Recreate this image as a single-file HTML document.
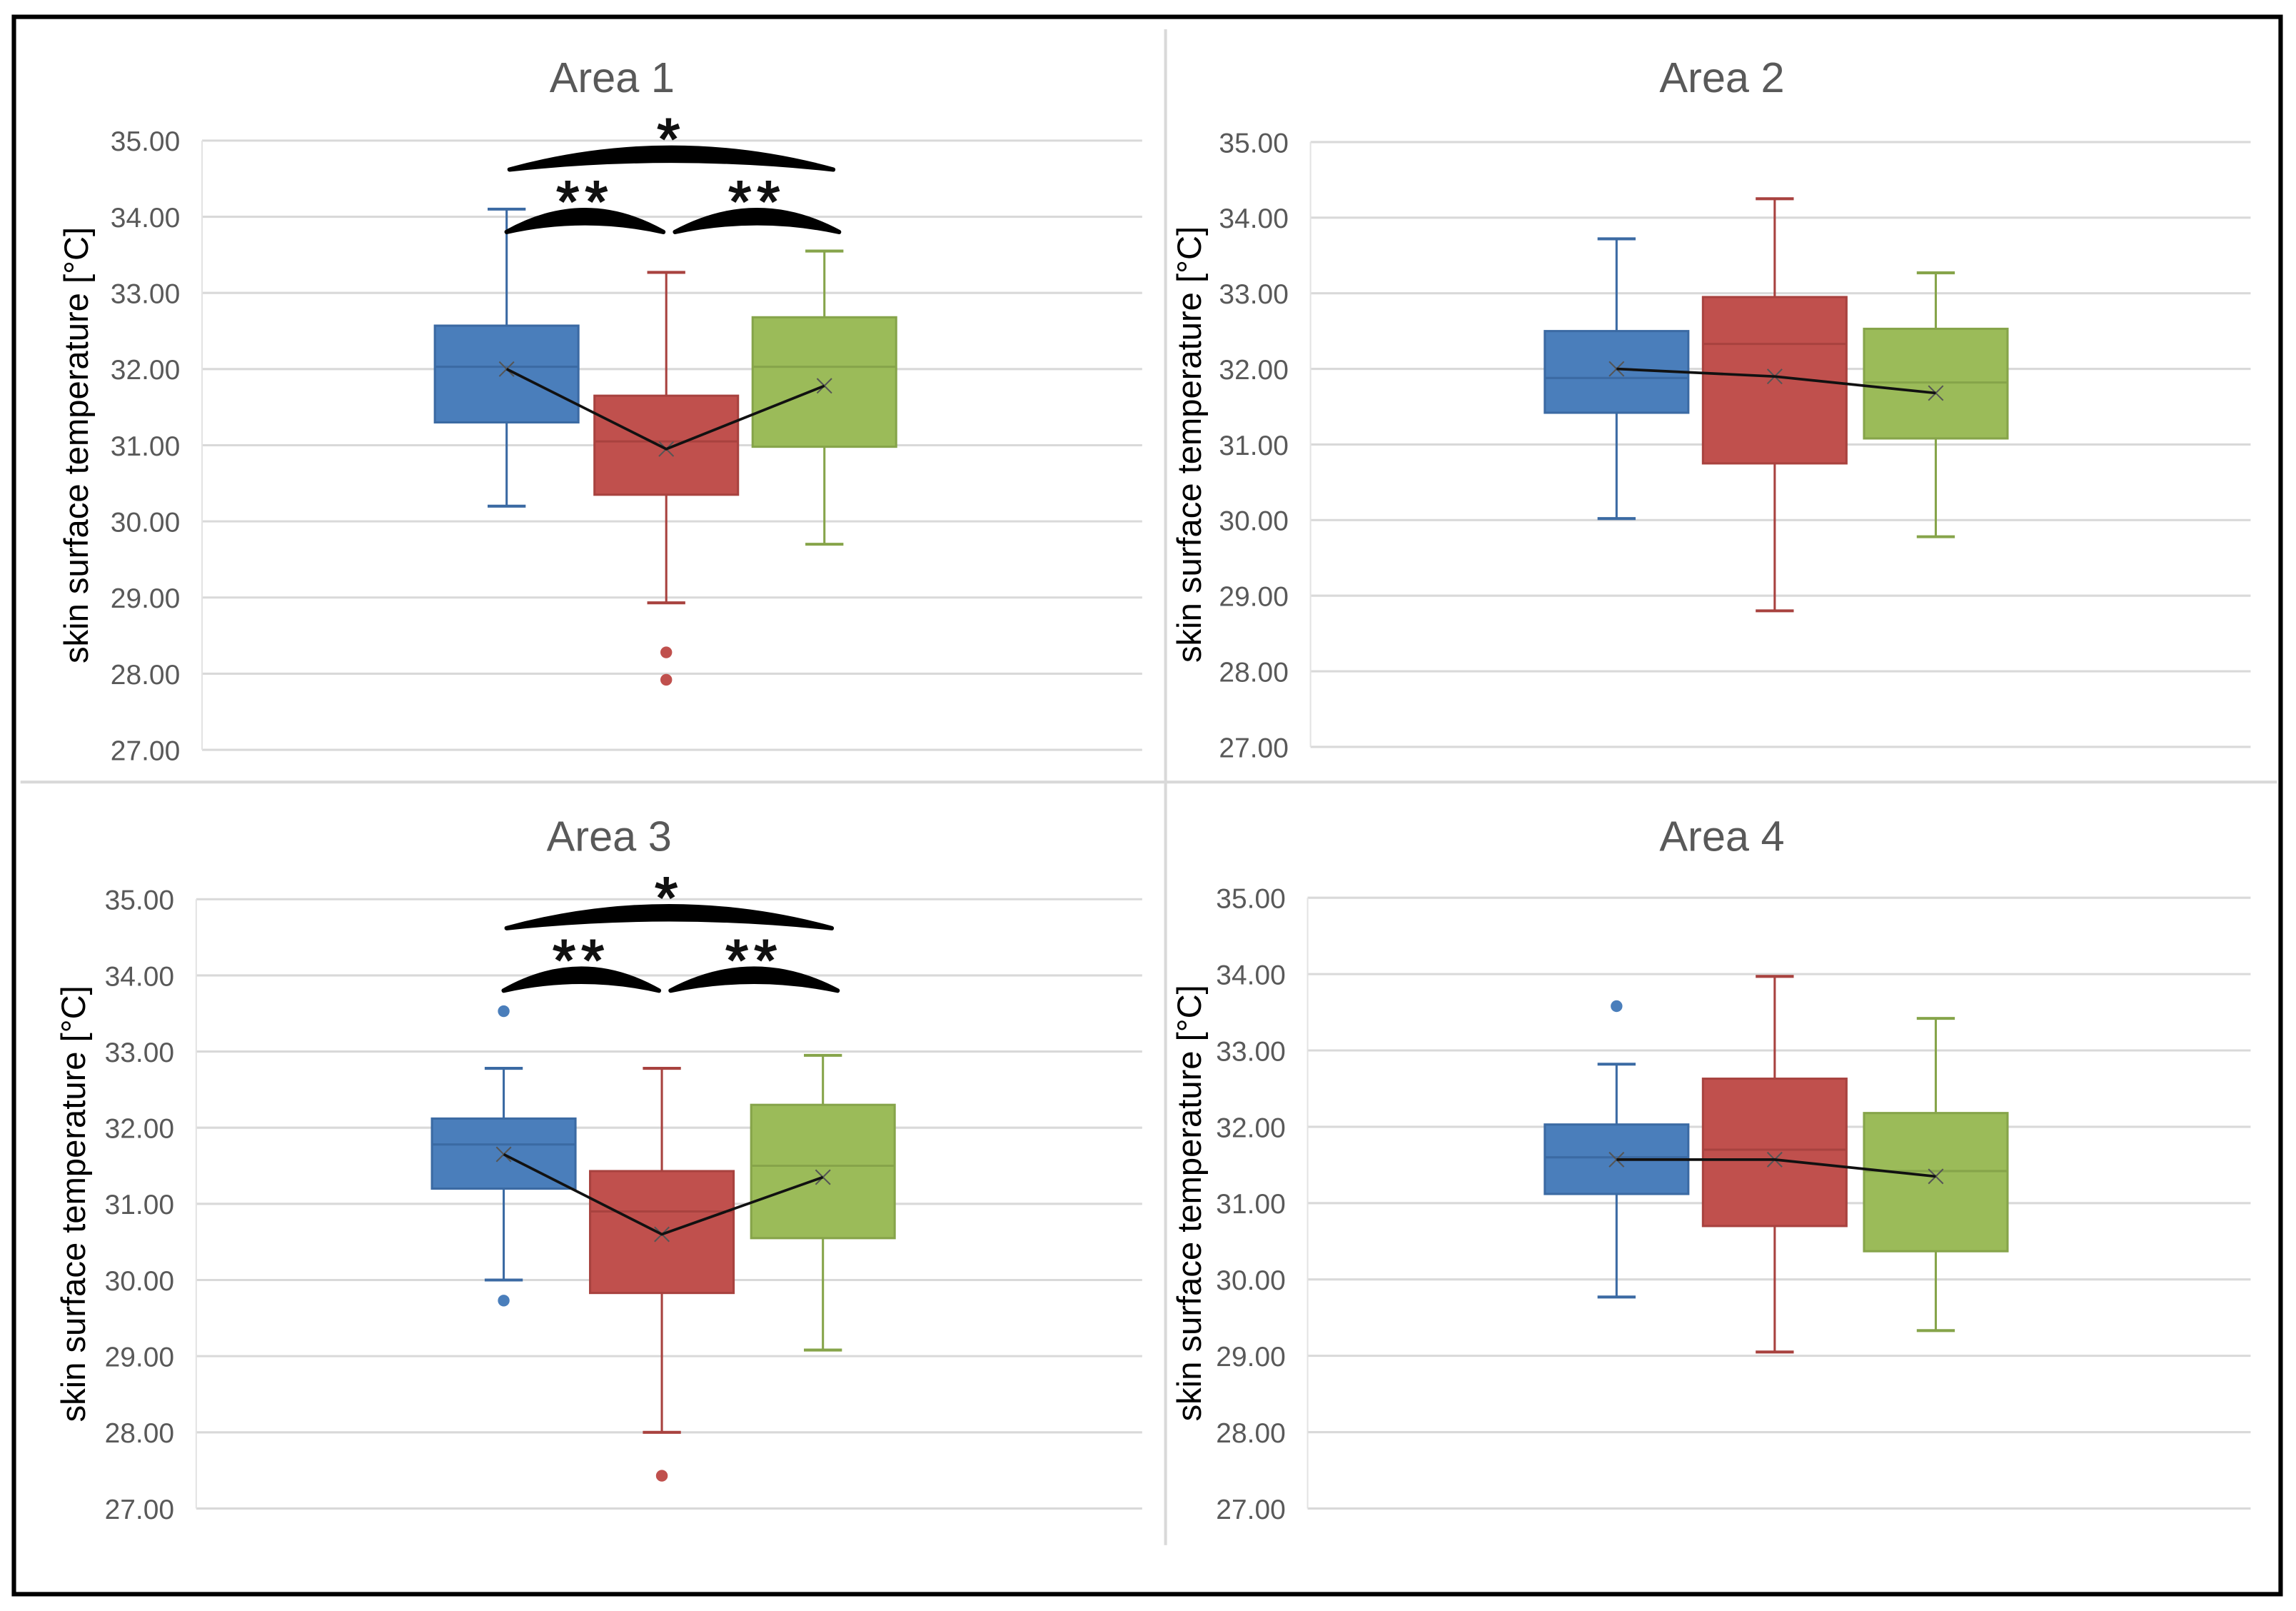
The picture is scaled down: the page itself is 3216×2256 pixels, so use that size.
<!DOCTYPE html>
<html><head><meta charset="utf-8">
<style>
html,body{margin:0;padding:0;background:#fff;}
svg{display:block;}
.tick{font-family:"Liberation Sans Narrow","Liberation Sans",sans-serif;font-size:19px;fill:#595959;}
.title{font-family:"Liberation Sans Narrow","Liberation Sans",sans-serif;font-size:29px;fill:#595959;}
.ytitle{font-family:"Liberation Sans",sans-serif;font-size:23px;fill:#000;}
.star{font-family:"Liberation Sans",sans-serif;font-size:40px;fill:#111;stroke:#111;stroke-width:1;}
</style></head>
<body>
<svg id="chart" width="3216" height="2256" viewBox="0 0 1568 1100" preserveAspectRatio="none" xmlns="http://www.w3.org/2000/svg">
<rect x="0" y="0" width="1568" height="1100" fill="#fff"/>
<rect x="9.5" y="11.5" width="1548" height="1077" fill="none" stroke="#000" stroke-width="3"/>
<line x1="796" y1="20" x2="796" y2="1055" stroke="#d9d9d9" stroke-width="2"/>
<line x1="14" y1="534" x2="1555" y2="534" stroke="#d9d9d9" stroke-width="2"/>
<g id="plots"></g>
</svg>
<script>
// ---- data ----
const areaTitles = ["Area 1", "Area 2", "Area 3", "Area 4"];
const groupNames = ["group-1", "group-2", "group-3"];
const yTicks = [27, 28, 29, 30, 31, 32, 33, 34, 35];
const whiskerLow = [[30.2, 28.93, 29.7], [30.02, 28.8, 29.78], [30.0, 28.0, 29.08], [29.77, 29.05, 29.33]];
const q1Values = [[31.3, 30.35, 30.98], [31.42, 30.75, 31.08], [31.2, 29.83, 30.55], [31.12, 30.7, 30.37]];
const medianValues = [[32.03, 31.05, 32.03], [31.88, 32.33, 31.82], [31.78, 30.9, 31.5], [31.6, 31.7, 31.42]];
const q3Values = [[32.57, 31.65, 32.68], [32.5, 32.95, 32.53], [32.12, 31.43, 32.3], [32.03, 32.63, 32.18]];
const whiskerHigh = [[34.1, 33.27, 33.55], [33.72, 34.25, 33.27], [32.78, 32.78, 32.95], [32.82, 33.97, 33.42]];
const meanValues = [[32.0, 30.95, 31.78], [32.0, 31.9, 31.68], [31.65, 30.6, 31.35], [31.57, 31.57, 31.35]];
const outlierValues = [[[], [28.28, 27.92], []], [[], [], []], [[33.53, 29.73], [27.43], []], [[33.58], [], []]];
const sigLevels = [["**", "**", "*"], [], ["**", "**", "*"], []];

// ---- layout (not data) ----
const panels = [
  {x0:138, x1:780, yTop:96, yBot:512, titleX:418, titleY:63, centers:[346,455,563], ytX:60},
  {x0:895, x1:1537, yTop:97, yBot:510, titleX:1176, titleY:63, centers:[1104,1212,1322], ytX:820},
  {x0:134, x1:780, yTop:614, yBot:1030, titleX:416, titleY:581, centers:[344,452,562], ytX:58},
  {x0:893, x1:1537, yTop:613, yBot:1030, titleX:1176, titleY:581, centers:[1104,1212,1322], ytX:820}
];
const fills = ["#4a7ebb", "#c0504d", "#9bbb59"];
const strokes = ["#3b6aa3", "#a8423f", "#86a44a"];
const boxW = 98;
const NS = "http://www.w3.org/2000/svg";
const root = document.getElementById("plots");

function mk(tag, attrs, parent) {
  const e = document.createElementNS(NS, tag);
  for (const k in attrs) e.setAttribute(k, attrs[k]);
  parent.appendChild(e);
  return e;
}

panels.forEach((p, pi) => {
  const g = mk("g", {}, root);
  
  
  const yScale = v => p.yBot - (v - yTicks[0]) / (yTicks[yTicks.length - 1] - yTicks[0]) * (p.yBot - p.yTop);

  yTicks.forEach(t => {
    const gl = mk("line", {x1:p.x0, x2:p.x1, y1:yScale(t), y2:yScale(t), stroke:"#d9d9d9", "stroke-width":1.5}, g);
    
    
    const tl = mk("text", {x:p.x0 - 15, y:yScale(t) + 7, "text-anchor":"end", class:"tick"}, g);
    tl.textContent = t.toFixed(2);
    
    
  });
  const ax = mk("line", {x1:p.x0, x2:p.x0, y1:p.yTop, y2:p.yBot, stroke:"#e3e3e3", "stroke-width":1}, g);
  
  

  const title = mk("text", {x:p.titleX, y:p.titleY, "text-anchor":"middle", class:"title"}, g);
  title.textContent = areaTitles[pi];
  
  

  const cy = (p.yTop + p.yBot) / 2;
  const yt = mk("text", {x:p.ytX, y:cy, "text-anchor":"middle", class:"ytitle", transform:"rotate(-90 " + p.ytX + " " + cy + ")"}, g);
  yt.textContent = "skin surface temperature [°C]";
  
  

  const meanPts = [];
  groupNames.forEach((gn, gi) => {
    const c = p.centers[gi];
    const bg = mk("g", {}, g);
    
    
    const lo = yScale(whiskerLow[pi][gi]), hi = yScale(whiskerHigh[pi][gi]);
    const q1 = yScale(q1Values[pi][gi]), q3 = yScale(q3Values[pi][gi]);
    mk("line", {x1:c, x2:c, y1:hi, y2:lo, stroke:strokes[gi], "stroke-width":1.5}, bg);
    mk("line", {x1:c - 13, x2:c + 13, y1:hi, y2:hi, stroke:strokes[gi], "stroke-width":2}, bg);
    mk("line", {x1:c - 13, x2:c + 13, y1:lo, y2:lo, stroke:strokes[gi], "stroke-width":2}, bg);
    mk("rect", {x:c - boxW / 2, y:q3, width:boxW, height:q1 - q3, fill:fills[gi], stroke:strokes[gi], "stroke-width":1.5}, bg);
    const md = yScale(medianValues[pi][gi]);
    mk("line", {x1:c - boxW / 2, x2:c + boxW / 2, y1:md, y2:md, stroke:strokes[gi], "stroke-width":1.5}, bg);
    const mv = yScale(meanValues[pi][gi]);
    mk("path", {d:"M" + (c - 5) + "," + (mv - 5) + "L" + (c + 5) + "," + (mv + 5) + "M" + (c + 5) + "," + (mv - 5) + "L" + (c - 5) + "," + (mv + 5), stroke:"#555", "stroke-width":1}, bg);
    meanPts.push(c + "," + mv);
    outlierValues[pi][gi].forEach(o => {
      const oc = mk("circle", {cx:c, cy:yScale(o), r:4, fill:fills[gi]}, bg);
      
      
    });
  });
  const ml = mk("polyline", {points:meanPts.join(" "), fill:"none", stroke:"#111", "stroke-width":1.8}, g);
  
  

  if (sigLevels[pi].length) {
    const c = p.centers;
    const ySmall = yScale(33.8), yBig = yScale(34.62);
    const braces = [
      [c[0], c[1] - 2, ySmall, sigLevels[pi][0]],
      [c[1] + 6, c[2] + 10, ySmall, sigLevels[pi][1]],
      [c[0] + 2, c[2] + 6, yBig, sigLevels[pi][2]]
    ];
    braces.forEach((b, bi) => {
      const [x1, x2, yb, lab] = b;
      const mid = (x1 + x2) / 2;
      const br = mk("path", {d:"M" + x1 + "," + yb + " Q" + mid + "," + (yb - 30) + " " + x2 + "," + yb + " Q" + mid + "," + (yb - 12) + " " + x1 + "," + yb + "Z", fill:"#000", stroke:"#000", "stroke-width":3, "stroke-linejoin":"round"}, g);
      
      
      const st = mk("text", {x:mid, y:yb - 7, "text-anchor":"middle", class:"star", "letter-spacing":"4"}, g);
      st.textContent = lab;
      
      
    });
  }
});
</script>
</body></html>
